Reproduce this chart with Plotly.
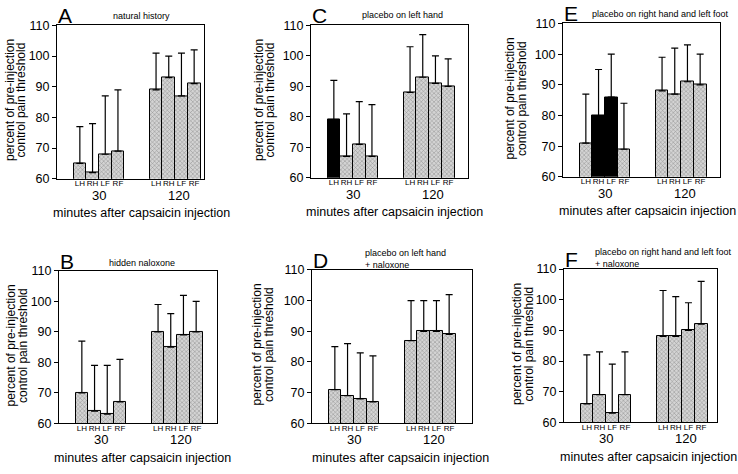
import plotly.graph_objects as go

# ---------------- data ----------------
sites = ["LH", "RH", "LF", "RF"]
times = ["30", "120"]

panel_letters = ["A", "C", "E", "B", "D", "F"]
panel_titles = [
    "natural history",
    "placebo on left hand",
    "placebo on right hand and left foot",
    "hidden naloxone",
    "placebo on left hand<br>+ naloxone",
    "placebo on right hand and left foot<br>+ naloxone",
]

# mean percent of pre-injection threshold, 30 min then 120 min (LH, RH, LF, RF)
A_30 = [65, 62, 68, 69];  A_120 = [89, 93, 87, 91]
C_30 = [79, 67, 71, 67];  C_120 = [88, 93, 91, 90]
E_30 = [71, 80, 86, 69];  E_120 = [88, 87, 91, 90]
B_30 = [70, 64, 63, 67];  B_120 = [90, 85, 89, 90]
D_30 = [71, 69, 68, 67];  D_120 = [87, 90, 90, 89]
F_30 = [66, 69, 63, 69];  F_120 = [88, 88, 90, 92]

# upward error (SD)
A_err30 = [12, 16, 19, 20];  A_err120 = [12, 7, 14, 11]
C_err30 = [13, 14, 14, 17];  C_err120 = [15, 14, 9, 9]
E_err30 = [16, 15, 14, 15];  E_err120 = [11, 15, 12, 10]
B_err30 = [17, 15, 16, 14];  B_err120 = [9, 11, 13, 10]
D_err30 = [14, 17, 15, 15];  D_err120 = [13, 10, 10, 13]
F_err30 = [16, 14, 16, 14];  F_err120 = [15, 13, 9, 14]

# sites that received placebo (black bars at 30 min)
A_placebo = [];  C_placebo = ["LH"];  E_placebo = ["RH", "LF"]
B_placebo = [];  D_placebo = [];      F_placebo = []

means = [(A_30, A_120), (C_30, C_120), (E_30, E_120), (B_30, B_120), (D_30, D_120), (F_30, F_120)]
errs = [(A_err30, A_err120), (C_err30, C_err120), (E_err30, E_err120),
        (B_err30, B_err120), (D_err30, D_err120), (F_err30, F_err120)]
placebos = [A_placebo, C_placebo, E_placebo, B_placebo, D_placebo, F_placebo]

# ---------------- layout (pixel geometry) ----------------
W, H = 738, 474
FONT = "Arial, Liberation Sans, Helvetica, sans-serif"
BW = 12.7        # px per bar
LM = 16.5        # px from axis to first bar
GROUP_GAP = 6    # bar slots between group starts

geom = [
    dict(x0=57, x1=204, y0=19, y1=177, ylab=15.5, xt=141, tx=141, ty=9, talign="center"),
    dict(x0=311, x1=468, y0=19, y1=176, ylab=264, xt=394, tx=402, ty=8, talign="center"),
    dict(x0=563, x1=720, y0=17, y1=175, ylab=516, xt=647, tx=660, ty=7, talign="center"),
    dict(x0=59, x1=217, y0=272, y1=429, ylab=17, xt=142.5, tx=142, ty=264, talign="center"),
    dict(x0=312, x1=472, y0=271, y1=429, ylab=262.5, xt=400.5, tx=363, ty=260, talign="left"),
    dict(x0=564, x1=717, y0=270, y1=428, ylab=523, xt=648, tx=593, ty=258.5, talign="left"),
]

def fx(p):
    return p / W

def fy(p):
    return 1 - p / H

fig = go.Figure()
annotations = []
layout_axes = {}

for i in range(6):
    g = geom[i]
    ax = "" if i == 0 else str(i + 1)
    xname, yname = "x" + ax, "y" + ax
    xs, ys, es, cols, pats = [], [], [], [], []
    for ti, t in enumerate(times):
        for si, s in enumerate(sites):
            xs.append(ti * GROUP_GAP + si)
            ys.append(means[i][ti][si])
            es.append(errs[i][ti][si])
            black = (t == "30" and s in placebos[i])
            cols.append("black" if black else "#d4d4d4")
            pats.append("" if black else "x")
    fig.add_trace(go.Bar(
        x=xs, y=ys, width=1.0,
        xaxis=xname, yaxis=yname,
        marker=dict(color=cols, line=dict(color="black", width=1),
                    pattern=dict(shape=pats, fgcolor="#999999", bgcolor="#dcdcdc",
                                 size=3, solidity=0.3)),
        error_y=dict(type="data", symmetric=False, array=es, arrayminus=[0] * len(es),
                     color="black", thickness=1.2, width=3.5),
        showlegend=False, hoverinfo="skip",
    ))
    left = -0.5 - LM / BW
    right = left + (g["x1"] - g["x0"]) / BW
    layout_axes["xaxis" + ax] = dict(
        domain=[fx(g["x0"]), fx(g["x1"])], anchor=yname, range=[left, right],
        tickvals=xs, ticktext=sites * 2, ticks="", tickangle=0, ticklabelstandoff=-3,
        showgrid=False, zeroline=False,
        showline=True, mirror=True, linecolor="black", linewidth=1,
        tickfont=dict(family=FONT, size=8, color="black"), fixedrange=True,
    )
    layout_axes["yaxis" + ax] = dict(
        domain=[fy(g["y1"]), fy(g["y0"])], anchor=xname, range=[60, 110],
        tickvals=[60, 70, 80, 90, 100, 110], ticks="outside", ticklen=4, tickwidth=1,
        tickcolor="black", showgrid=False, zeroline=False,
        showline=True, mirror=True, linecolor="black", linewidth=1,
        tickfont=dict(family=FONT, size=12.5, color="black"), fixedrange=True,
    )
    for ti, t in enumerate(times):
        annotations.append(dict(
            text=t, xref=xname, yref="paper",
            x=ti * GROUP_GAP + 1.5 + (0.3 if ti == 1 else 0), y=fy(g["y1"] + 17),
            xanchor="center", yanchor="middle", showarrow=False,
            font=dict(family=FONT, size=13, color="black")))
    annotations.append(dict(
        text="minutes after capsaicin injection", xref="paper", yref="paper",
        x=fx(g["xt"]), y=fy(g["y1"] + 35.5), xanchor="center", yanchor="middle",
        showarrow=False, font=dict(family=FONT, size=12.5, color="black")))
    yc = (g["y0"] + g["y1"]) / 2 - 2
    for li, line in enumerate(["percent of pre-injection", "control pain threshold"]):
        annotations.append(dict(
            text=line, xref="paper", yref="paper",
            x=fx(g["ylab"] + (li - 0.5) * 11.5), y=fy(yc), textangle=-90,
            xanchor="center", yanchor="middle", showarrow=False,
            font=dict(family=FONT, size=12, color="black")))
    annotations.append(dict(
        text=panel_letters[i], xref="paper", yref="paper",
        x=fx(g["x0"] - 1), y=fy(g["y0"] + 4), xanchor="left", yanchor="bottom",
        showarrow=False, font=dict(family=FONT, size=21, color="black")))
    annotations.append(dict(
        text=panel_titles[i], xref="paper", yref="paper",
        x=fx(g["tx"]), y=fy(g["ty"]), align=g["talign"],
        xanchor="center" if g["talign"] == "center" else "left", yanchor="middle",
        showarrow=False, font=dict(family=FONT, size=9, color="black")))

fig.update_layout(
    width=W, height=H, margin=dict(l=0, r=0, t=0, b=0),
    paper_bgcolor="white", plot_bgcolor="white",
    annotations=annotations, bargap=0, **layout_axes,
)

fig.write_html("out.html", config={"displayModeBar": False},
               post_script="document.body.style.margin='0px';")
